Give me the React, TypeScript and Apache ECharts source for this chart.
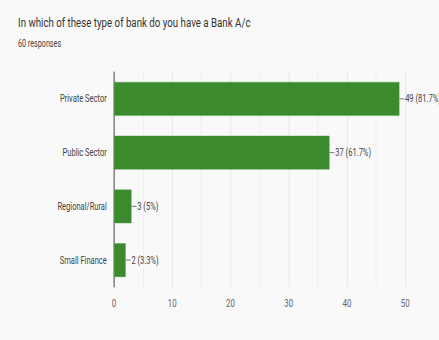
import React, { useEffect, useRef } from "react";
import * as echarts from "echarts";

const title = "In which of these type of bank do you have a Bank A/c";
const subtitle = "60 responses";
const categories = ["Private Sector", "Public Sector", "Regional/Rural", "Small Finance"];
const counts = [49, 37, 3, 2];
const percents = ["81.7%", "61.7%", "5%", "3.3%"];

const FONT = "Roboto, 'Noto Sans', sans-serif";
const S = 0.72; // horizontal squash of the reference screenshot
const W = 439 / S;

export default function App() {
  const ref = useRef<HTMLDivElement>(null);
  useEffect(() => {
    const chart = echarts.init(ref.current!, null, { renderer: "svg" });
    chart.setOption({
      animation: false,
      backgroundColor: "#f9f9f9",
      textStyle: { fontFamily: FONT },
      title: {
        text: title,
        subtext: subtitle,
        left: 20,
        top: 10,
        itemGap: 10,
        textStyle: { fontFamily: FONT, fontSize: 13.5, fontWeight: "normal", color: "#333" },
        subtextStyle: { fontFamily: FONT, fontSize: 10, color: "#444" },
      },
      grid: { left: 114 / S, right: 34 / S, top: 72, bottom: 53 },
      xAxis: {
        type: "value",
        min: 0,
        max: 50,
        interval: 10,
        axisLine: { show: false },
        axisTick: { show: false },
        axisLabel: { color: "#666", fontSize: 11, fontFamily: FONT, margin: 10 },
        splitLine: { show: true, lineStyle: { color: "#e4e4e4", width: 1 } },
        minorTick: { show: false, splitNumber: 2 },
        minorSplitLine: { show: true, lineStyle: { color: "#ececec", width: 1 } },
      },
      yAxis: {
        type: "category",
        data: categories,
        inverse: true,
        axisLine: { show: true, lineStyle: { color: "#333", width: 1 } },
        axisTick: { show: false },
        axisLabel: { color: "#444", fontSize: 10.5, fontFamily: FONT, margin: 10 },
      },
      series: [
        {
          type: "bar",
          data: counts,
          barWidth: "63%",
          itemStyle: { color: "#3b8a2e", borderColor: "#5aa34c", borderWidth: 0.5 },
          label: {
            show: true,
            position: "right",
            distance: 0,
            formatter: (p: any) => `{l|}{t|${counts[p.dataIndex]} (${percents[p.dataIndex]})}`,
            rich: {
              l: { width: 7, height: 1, backgroundColor: "#777", verticalAlign: "middle" },
              t: { color: "#444", fontSize: 10.5, fontFamily: FONT, verticalAlign: "middle", padding: [0, 0, 0, 1] },
            },
          },
        },
      ],
    });
    return () => chart.dispose();
  }, []);
  return (
    <div
      style={{ position: "fixed", left: 0, top: 0, width: 439, height: 340, overflow: "hidden", background: "#f9f9f9" }}
    >
      <div
        ref={ref}
        style={{ width: W, height: 340, transform: `scaleX(${S})`, transformOrigin: "0 0" }}
      />
    </div>
  );
}
